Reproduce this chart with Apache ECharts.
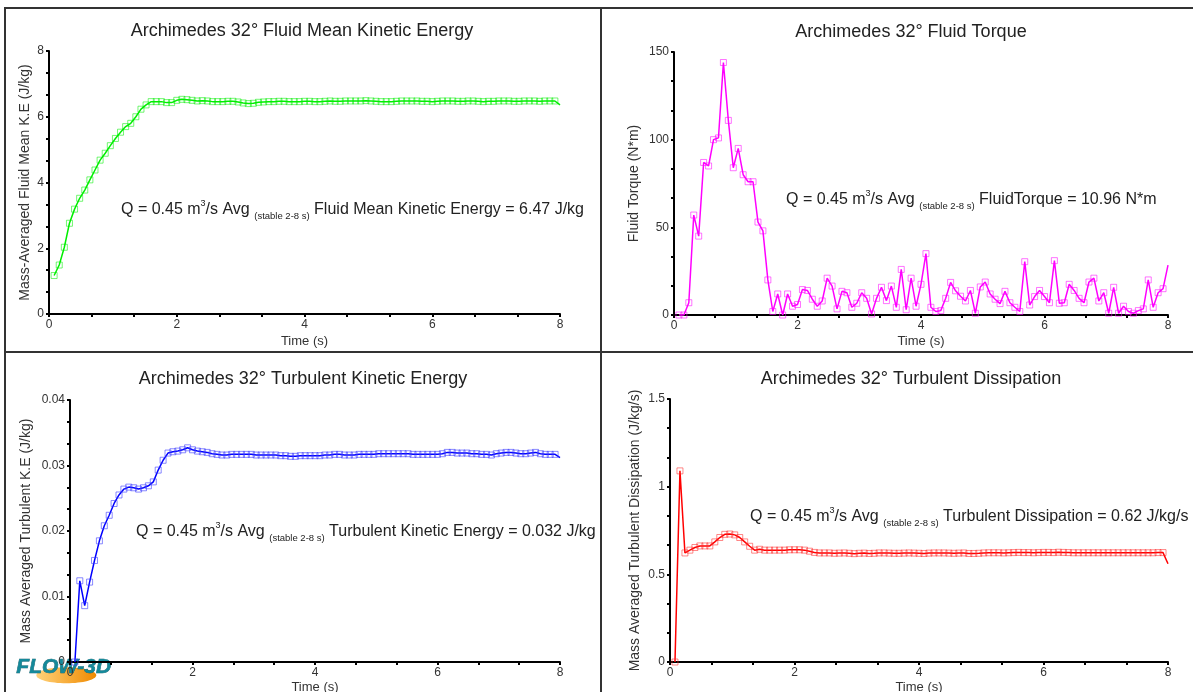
<!DOCTYPE html>
<html>
<head>
<meta charset="utf-8">
<title>Archimedes 32 deg</title>
<script src="https://cdn.jsdelivr.net/npm/echarts@6.0.0/dist/echarts.min.js"></script>
<style>
  html, body { margin: 0; padding: 0; background: #fff; }
  #chart { width: 1193px; height: 692px; }
</style>
</head>
<body>
<div id="chart"></div>
<script>
// sample times (s), shared by the four plots
const time = [
  0.08, 0.16, 0.24, 0.32, 0.40, 0.48, 0.56, 0.64, 0.72, 0.80,
  0.88, 0.96, 1.04, 1.12, 1.20, 1.28, 1.36, 1.44, 1.52, 1.60,
  1.68, 1.76, 1.84, 1.92, 2.00, 2.08, 2.16, 2.24, 2.32, 2.40,
  2.48, 2.56, 2.64, 2.72, 2.80, 2.88, 2.96, 3.04, 3.12, 3.20,
  3.28, 3.36, 3.44, 3.52, 3.60, 3.68, 3.76, 3.84, 3.92, 4.00,
  4.08, 4.16, 4.24, 4.32, 4.40, 4.48, 4.56, 4.64, 4.72, 4.80,
  4.88, 4.96, 5.04, 5.12, 5.20, 5.28, 5.36, 5.44, 5.52, 5.60,
  5.68, 5.76, 5.84, 5.92, 6.00, 6.08, 6.16, 6.24, 6.32, 6.40,
  6.48, 6.56, 6.64, 6.72, 6.80, 6.88, 6.96, 7.04, 7.12, 7.20,
  7.28, 7.36, 7.44, 7.52, 7.60, 7.68, 7.76, 7.84, 7.92, 8.00
];

// fluid mean kinetic energy (J/kg)
const meanKE = [
  1.17, 1.49, 2.03, 2.76, 3.19, 3.52, 3.77, 4.08, 4.38, 4.68,
  4.89, 5.12, 5.34, 5.53, 5.70, 5.80, 6.00, 6.23, 6.36, 6.46,
  6.46, 6.46, 6.43, 6.43, 6.50, 6.53, 6.52, 6.50, 6.48, 6.49,
  6.48, 6.46, 6.46, 6.46, 6.47, 6.47, 6.45, 6.42, 6.40, 6.41,
  6.44, 6.45, 6.46, 6.46, 6.47, 6.47, 6.46, 6.46, 6.46, 6.47,
  6.47, 6.46, 6.46, 6.47, 6.48, 6.47, 6.47, 6.48, 6.48, 6.48,
  6.48, 6.49, 6.48, 6.47, 6.46, 6.46, 6.46, 6.47, 6.48, 6.48,
  6.48, 6.48, 6.47, 6.47, 6.46, 6.47, 6.48, 6.48, 6.48, 6.47,
  6.47, 6.48, 6.48, 6.47, 6.46, 6.47, 6.47, 6.48, 6.48, 6.48,
  6.47, 6.47, 6.48, 6.48, 6.48, 6.47, 6.48, 6.48, 6.48, 6.36
];

// fluid torque (N*m)
const torque = [
  0, 0, 7, 57, 45, 87, 85, 100, 101, 144,
  111, 84, 95, 80, 76, 76, 53, 48, 20, 2,
  12, 0, 12, 5, 6, 14.5, 14, 9, 5, 8,
  21, 16.5, 3.5, 13.5, 12.7, 4.4, 6.7, 12.7, 9.5, 0.6,
  9.5, 15.8, 8.2, 16.5, 4.4, 26, 3, 21, 5, 17.5,
  35, 4.4, 2, 2.5, 9.5, 18.6, 13.8, 10.7, 8, 14,
  1, 16, 18.8, 12, 9, 6.5, 13.5, 7, 4.4, 2,
  30.4, 5.7, 10.5, 14, 10.5, 7, 31, 6.7, 7, 17.5,
  14, 9.5, 7, 18.8, 21, 8, 12.7, 1, 15.8, 1,
  5, 2, 1, 2.5, 3.5, 20, 4.4, 12.7, 15, 28.5
];

// turbulent kinetic energy (J/kg)
const turbKE = [
  0, 0.0124, 0.0086, 0.0122, 0.0155, 0.0185, 0.0208, 0.0224, 0.0242, 0.0255,
  0.0264, 0.0267, 0.0266, 0.0264, 0.0266, 0.0269, 0.0275, 0.0293, 0.0308, 0.0319,
  0.0321, 0.0322, 0.0324, 0.0327, 0.0324, 0.0322, 0.0321, 0.0320, 0.0318, 0.0317,
  0.0316, 0.0316, 0.0317, 0.0317, 0.0317, 0.0317, 0.0317, 0.0316, 0.0316, 0.0316,
  0.0316, 0.0316, 0.0315, 0.0315, 0.0314, 0.0314, 0.0315, 0.0315, 0.0315, 0.0315,
  0.0315, 0.0316, 0.0316, 0.0317, 0.0317, 0.0316, 0.0316, 0.0316, 0.0317, 0.0317,
  0.0317, 0.0317, 0.0318, 0.0318, 0.0318, 0.0318, 0.0318, 0.0318, 0.0318, 0.0317,
  0.0317, 0.0317, 0.0317, 0.0317, 0.0317, 0.0318, 0.0320, 0.0320, 0.0319, 0.0319,
  0.0319, 0.0318, 0.0318, 0.0317, 0.0317, 0.0316, 0.0318, 0.0319, 0.0320, 0.0320,
  0.0319, 0.0318, 0.0318, 0.0319, 0.0320, 0.0318, 0.0317, 0.0317, 0.0317, 0.0312
];

// turbulent dissipation (J/kg/s)
const dissipation = [
  0, 1.09, 0.622, 0.638, 0.653, 0.662, 0.662, 0.662, 0.685, 0.710,
  0.728, 0.730, 0.725, 0.710, 0.685, 0.660, 0.638, 0.643, 0.638, 0.638,
  0.638, 0.638, 0.638, 0.640, 0.640, 0.640, 0.638, 0.632, 0.625, 0.622,
  0.622, 0.622, 0.620, 0.621, 0.622, 0.620, 0.618, 0.620, 0.621, 0.619,
  0.620, 0.622, 0.622, 0.621, 0.620, 0.620, 0.621, 0.622, 0.621, 0.620,
  0.619, 0.621, 0.622, 0.622, 0.622, 0.621, 0.620, 0.621, 0.622, 0.619,
  0.619, 0.620, 0.622, 0.623, 0.623, 0.623, 0.622, 0.623, 0.624, 0.625,
  0.624, 0.624, 0.623, 0.624, 0.625, 0.625, 0.624, 0.626, 0.625, 0.624,
  0.623, 0.623, 0.623, 0.623, 0.623, 0.623, 0.623, 0.623, 0.623, 0.623,
  0.623, 0.623, 0.623, 0.623, 0.623, 0.623, 0.623, 0.624, 0.624, 0.560
];

const titles = [
  'Archimedes 32\u00b0 Fluid Mean Kinetic Energy',
  'Archimedes 32\u00b0 Fluid Torque',
  'Archimedes 32\u00b0 Turbulent Kinetic Energy',
  'Archimedes 32\u00b0 Turbulent Dissipation'
];
const yNames = [
  'Mass-Averaged Fluid Mean K.E (J/kg)',
  'Fluid Torque (N*m)',
  'Mass Averaged Turbulent K.E (J/kg)',
  'Mass Averaged Turbulent Dissipation (J/kg/s)'
];
const avgLabels = [
  'Fluid Mean Kinetic Energy = 6.47 J/kg',
  'FluidTorque = 10.96 N*m',
  'Turbulent Kinetic Energy = 0.032 J/kg',
  'Turbulent Dissipation = 0.62 J/kg/s'
];
const yMax = [8, 150, 0.04, 1.5];
const yStep = [2, 50, 0.01, 0.5];

const panels = [
  { grid: { left: 49, top: 51, width: 511, height: 263 }, color: '#00ee00', mark: 'rgba(0,238,0,0.55)', yGap: 17, xGap: 21, titleX: 302, titleY: 31, noteX: 121, noteY: 210 },
  { grid: { left: 674, top: 52, width: 494, height: 263 }, color: '#ff00ff', mark: 'rgba(255,0,255,0.55)', yGap: 33, xGap: 20, titleX: 911, titleY: 32, noteX: 786, noteY: 200 },
  { grid: { left: 70, top: 400, width: 490, height: 262 }, color: '#0000ff', mark: 'rgba(60,60,255,0.6)', yGap: 37, xGap: 19, titleX: 303, titleY: 379, noteX: 136, noteY: 532 },
  { grid: { left: 670, top: 399, width: 498, height: 263 }, color: '#ff0000', mark: 'rgba(255,40,40,0.55)', yGap: 28, xGap: 19, titleX: 911, titleY: 379, noteX: 750, noteY: 517 }
];
const seriesData = [meanKE, torque, turbKE, dissipation];

const font = 'Liberation Sans, Arial, sans-serif';
const axisCommon = {
  axisLine: { show: true, lineStyle: { color: '#000', width: 2 } },
  axisTick: { show: true, length: 3, lineStyle: { color: '#000', width: 2 } },
  minorTick: { show: true, splitNumber: 3, length: 3, lineStyle: { color: '#000', width: 2 } },
  splitLine: { show: false },
  axisLabel: { color: '#333', fontSize: 12, fontFamily: font, margin: 5 },
  nameTextStyle: { color: '#333', fontSize: 13, fontFamily: font }
};

const chart = echarts.init(document.getElementById('chart'), null, { renderer: 'canvas' });

const graphic = [
  // panel frames
  { type: 'rect', shape: { x: 5, y: 8, width: 1190, height: 700 }, style: { fill: 'none', stroke: '#333', lineWidth: 2 }, silent: true },
  { type: 'line', shape: { x1: 601, y1: 8, x2: 601, y2: 692 }, style: { stroke: '#333', lineWidth: 2 }, silent: true },
  { type: 'line', shape: { x1: 5, y1: 352, x2: 1193, y2: 352 }, style: { stroke: '#333', lineWidth: 2 }, silent: true }
];

panels.forEach((p, i) => {
  graphic.push({
    type: 'text', silent: true,
    style: { text: titles[i], x: p.titleX, y: p.titleY, align: 'center', verticalAlign: 'middle', font: '18px ' + font, fill: '#222' }
  });
  graphic.push({
    type: 'text', silent: true,
    style: {
      text: '{a|Q = 0.45 m}{sup|3}{a|/s Avg }{sub|(stable 2-8 s)}{a| ' + avgLabels[i] + '}',
      x: p.noteX, y: p.noteY, align: 'left', verticalAlign: 'middle',
      rich: {
        a: { fontSize: 16, fontFamily: font, fill: '#222', lineHeight: 22 },
        sup: { fontSize: 9, fontFamily: font, fill: '#222', lineHeight: 12, verticalAlign: 'top' },
        sub: { fontSize: 9.5, fontFamily: font, fill: '#222', lineHeight: 11, verticalAlign: 'bottom' }
      }
    }
  });
});

// FLOW-3D logo
graphic.push({
  type: 'group', left: 16, top: 656, silent: true,
  children: [
    { type: 'ellipse', shape: { cx: 52, cy: 22, rx: 30, ry: 8 },
      style: { fill: new echarts.graphic.LinearGradient(0, 0, 1, 0, [
        { offset: 0, color: '#ffd27a' }, { offset: 1, color: '#f08a00' }]) } },
    { type: 'text', style: { text: 'FLOW-3D', x: 2, y: 3, font: 'italic bold 21px ' + font, fill: '#15899a', stroke: '#0b5562', lineWidth: 0.6 } }
  ]
});

const option = {
  backgroundColor: '#fff',
  animation: false,
  grid: panels.map(p => Object.assign({ containLabel: false, outerBoundsMode: 'none' }, p.grid)),
  xAxis: panels.map((p, i) => Object.assign({}, axisCommon, {
    type: 'value', gridIndex: i, min: 0, max: 8, interval: 2,
    name: 'Time (s)', nameLocation: 'middle', nameGap: p.xGap
  })),
  yAxis: panels.map((p, i) => Object.assign({}, axisCommon, {
    type: 'value', gridIndex: i, min: 0, max: yMax[i], interval: yStep[i],
    name: yNames[i], nameLocation: 'middle', nameGap: p.yGap,
    nameTextStyle: { color: '#333', fontSize: 14, fontFamily: font }
  })),
  series: panels.map((p, i) => ({
    type: 'line',
    xAxisIndex: i, yAxisIndex: i,
    data: time.map((t, k) => k === time.length - 1
      ? { value: [t, seriesData[i][k]], symbol: 'none' }
      : [t, seriesData[i][k]]),
    symbol: 'rect', symbolSize: 6, showAllSymbol: true,
    lineStyle: { color: p.color, width: 1.5 },
    itemStyle: { color: 'rgba(255,255,255,0)', borderColor: p.mark, borderWidth: 1 },
    silent: true
  })),
  graphic: graphic
};

chart.setOption(option);
</script>
</body>
</html>
